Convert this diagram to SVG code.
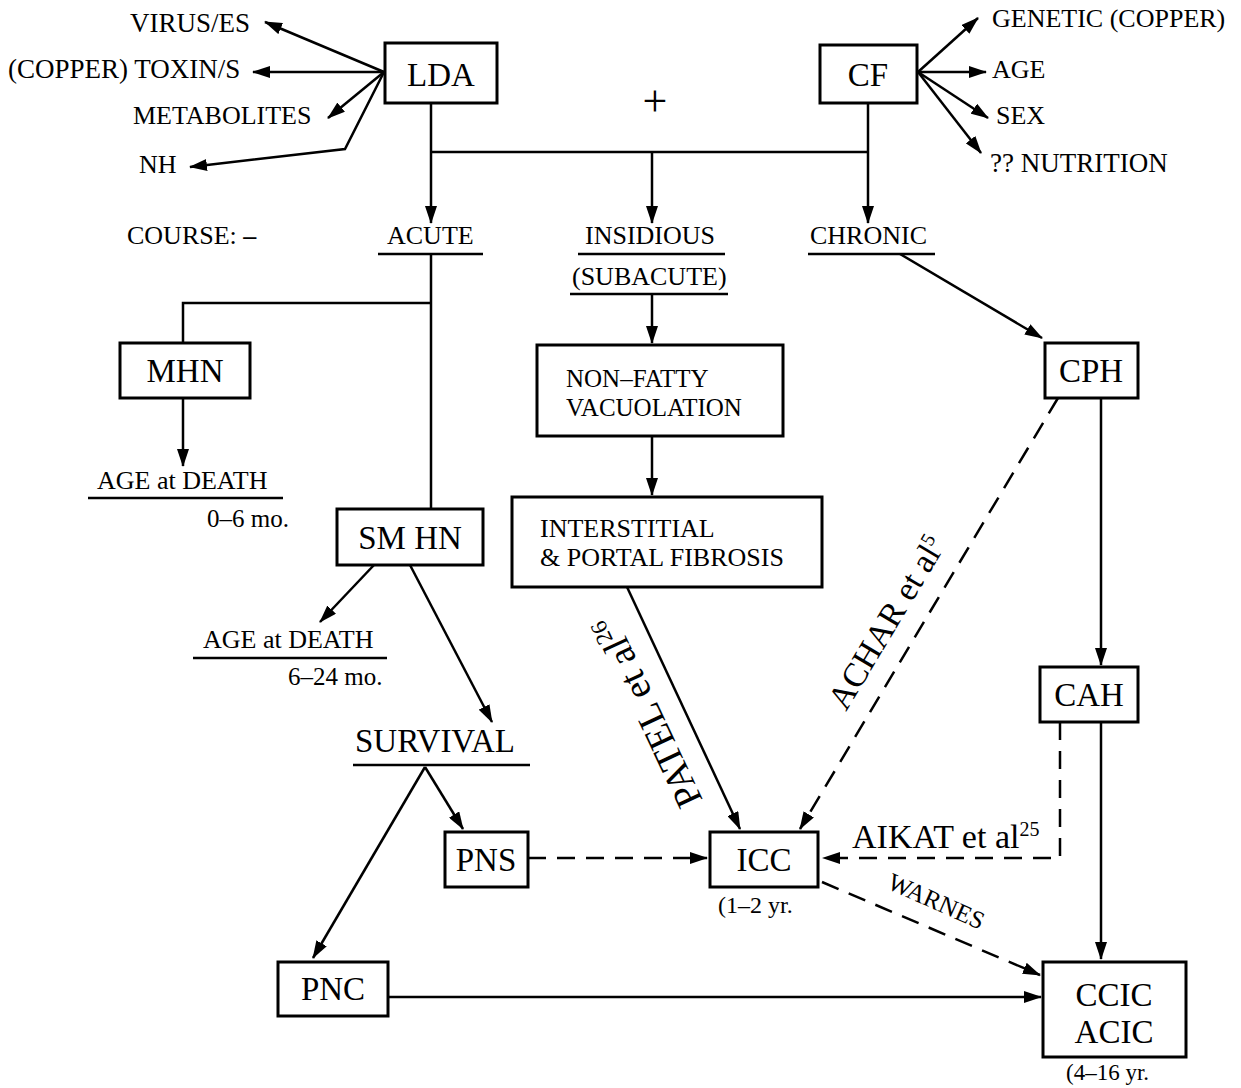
<svg xmlns="http://www.w3.org/2000/svg" width="1241" height="1088" viewBox="0 0 1241 1088">
<defs>
<marker id="ah" viewBox="0 0 18 12" refX="17" refY="6" markerWidth="18" markerHeight="12" markerUnits="userSpaceOnUse" orient="auto">
<path d="M0,0 L18,6 L0,12 z" fill="#000"/>
</marker>
</defs>
<style>
text{font-family:"Liberation Serif","Times New Roman",serif;fill:#000}
.box{fill:#fff;stroke:#000;stroke-width:3}
.big{font-size:33px;text-anchor:middle}
.c line,.c polyline{stroke:#000;stroke-width:2.5;fill:none}
.a{marker-end:url(#ah)}
.d{stroke-dasharray:18 11}
.ul{stroke:#000;stroke-width:2.5}
</style>
<rect width="1241" height="1088" fill="#fff"/>

<g id="connectors" class="c">
<line class="a" x1="384" y1="72" x2="265" y2="22"/>
<line class="a" x1="384" y1="72" x2="253" y2="72"/>
<line class="a" x1="384" y1="72" x2="328" y2="118"/>
<polyline class="a" points="384,72 345,149 190,167"/>
<line class="a" x1="918" y1="72" x2="978" y2="18"/>
<line class="a" x1="918" y1="72" x2="986" y2="72"/>
<line class="a" x1="918" y1="72" x2="988" y2="118"/>
<line class="a" x1="918" y1="72" x2="981" y2="153"/>
<line class="a" x1="431" y1="103" x2="431" y2="223"/>
<line x1="431" y1="152" x2="868" y2="152"/>
<line class="a" x1="652" y1="152" x2="652" y2="223"/>
<line class="a" x1="868" y1="103" x2="868" y2="223"/>
<line x1="431" y1="254" x2="431" y2="509"/>
<polyline points="431,303 183,303 183,343"/>
<line class="a" x1="183" y1="398" x2="183" y2="466"/>
<line class="a" x1="652" y1="294" x2="652" y2="343"/>
<line class="a" x1="652" y1="436" x2="652" y2="495"/>
<line class="a" x1="374" y1="565" x2="320" y2="622"/>
<line class="a" x1="410" y1="565" x2="492" y2="722"/>
<line class="a" x1="425" y1="767" x2="463" y2="829"/>
<line class="a" x1="425" y1="767" x2="313" y2="958"/>
<line class="a d" x1="528" y1="858" x2="707" y2="858"/>
<line class="a" x1="388" y1="997" x2="1041" y2="997"/>
<line class="a" x1="627" y1="587" x2="740" y2="829"/>
<line class="a d" x1="1058" y1="398" x2="800" y2="829"/>
<line class="a" x1="900" y1="254" x2="1042" y2="338"/>
<line class="a" x1="1101" y1="398" x2="1101" y2="665"/>
<line class="a" x1="1101" y1="722" x2="1101" y2="959"/>
<polyline class="a d" points="1060,722 1060,858 823,858"/>
<line class="a d" x1="822" y1="882" x2="1040" y2="975"/>
</g>

<g id="LDA"><rect class="box" x="385" y="43" width="112" height="60"/><text class="big" x="441" y="86">LDA</text></g>
<g id="CF"><rect class="box" x="820" y="45" width="97" height="58"/><text class="big" x="868" y="86">CF</text></g>
<g id="MHN"><rect class="box" x="120" y="343" width="130" height="55"/><text class="big" x="185" y="382">MHN</text></g>
<g id="SMHN"><rect class="box" x="337" y="509" width="146" height="56"/><text class="big" x="410" y="549">SM HN</text></g>
<g id="CPH"><rect class="box" x="1045" y="343" width="93" height="55"/><text class="big" x="1091" y="382">CPH</text></g>
<g id="CAH"><rect class="box" x="1040" y="667" width="98" height="55"/><text class="big" x="1089" y="706">CAH</text></g>
<g id="PNS"><rect class="box" x="445" y="832" width="83" height="55"/><text class="big" x="486" y="871">PNS</text></g>
<g id="ICC"><rect class="box" x="710" y="832" width="108" height="55"/><text class="big" x="764" y="871">ICC</text><text x="718" y="913" style="font-size:24px">(1–2 yr.</text></g>
<g id="PNC"><rect class="box" x="278" y="962" width="110" height="54"/><text class="big" x="333" y="1000">PNC</text></g>
<g id="CCIC"><rect class="box" x="1043" y="962" width="143" height="95"/><text class="big" x="1114" y="1006">CCIC</text><text class="big" x="1114" y="1043">ACIC</text><text x="1066" y="1080" style="font-size:23px">(4–16 yr.</text></g>
<g id="NONFATTY"><rect class="box" x="537" y="345" width="246" height="91"/><text x="566" y="387" style="font-size:25px">NON–FATTY</text><text x="566" y="416" style="font-size:25px">VACUOLATION</text></g>
<g id="INTERSTITIAL"><rect class="box" x="512" y="497" width="310" height="90"/><text x="540" y="537" style="font-size:26px">INTERSTITIAL</text><text x="540" y="566" style="font-size:26px">&amp; PORTAL FIBROSIS</text></g>

<g id="causes">
<text x="130" y="32" style="font-size:27px">VIRUS/ES</text>
<text x="8" y="78" style="font-size:27px">(COPPER) TOXIN/S</text>
<text x="133" y="124" style="font-size:26px">METABOLITES</text>
<text x="139" y="173" style="font-size:26px">NH</text>
<text x="992" y="27" style="font-size:26px">GENETIC (COPPER)</text>
<text x="992" y="78" style="font-size:26px">AGE</text>
<text x="996" y="124" style="font-size:26px">SEX</text>
<text x="990" y="172" style="font-size:27px">?? NUTRITION</text>
<text x="655" y="116" style="font-size:44px;text-anchor:middle">+</text>
</g>

<g id="course">
<text x="127" y="244" style="font-size:26px">COURSE: <tspan style="font-weight:bold">–</tspan></text>
<text x="387" y="244" style="font-size:26px">ACUTE</text><line class="ul" x1="378" y1="254" x2="483" y2="254"/>
<text x="585" y="244" style="font-size:26px">INSIDIOUS</text><line class="ul" x1="578" y1="254" x2="725" y2="254"/>
<text x="572" y="285" style="font-size:26px">(SUBACUTE)</text><line class="ul" x1="570" y1="294" x2="728" y2="294"/>
<text x="810" y="244" style="font-size:26px">CHRONIC</text><line class="ul" x1="808" y1="254" x2="935" y2="254"/>
</g>

<g id="outcomes">
<text x="97" y="489" style="font-size:26px">AGE at DEATH</text><line class="ul" x1="88" y1="498" x2="283" y2="498"/>
<text x="207" y="527" style="font-size:25px">0–6 mo.</text>
<text x="203" y="648" style="font-size:26px">AGE at DEATH</text><line class="ul" x1="193" y1="658" x2="387" y2="658"/>
<text x="288" y="685" style="font-size:25px">6–24 mo.</text>
<text x="355" y="752" style="font-size:33px">SURVIVAL</text><line class="ul" x1="353" y1="765" x2="530" y2="765"/>
</g>

<g id="edge-labels">
<text transform="translate(703,800) rotate(-115.2)" style="font-size:38px">PATEL et al<tspan dy="-13" style="font-size:23px">26</tspan></text>
<text transform="translate(846,712) rotate(-59)" style="font-size:34px">ACHAR et al<tspan dy="-12" style="font-size:20px">5</tspan></text>
<text x="852" y="848" style="font-size:34px">AIKAT et al<tspan dy="-12" style="font-size:20px">25</tspan></text>
<text transform="translate(886,888) rotate(24)" style="font-size:25px">WARNES</text>
</g>
</svg>
